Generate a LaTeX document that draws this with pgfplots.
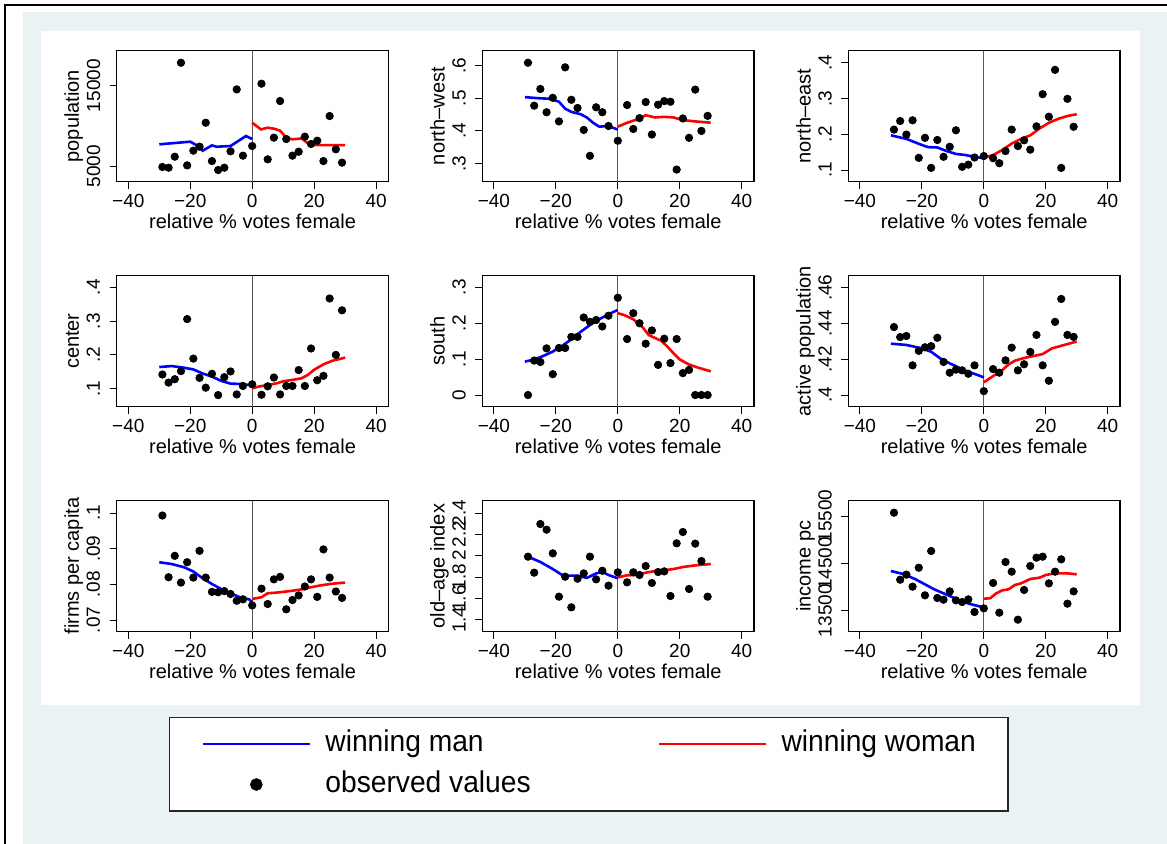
\documentclass[border=0pt]{standalone}
\usepackage{fontspec}
\setmainfont{Liberation Sans}
\newfontfamily\legfont[FakeStretch=0.94]{Liberation Sans}
\usepackage{pgfplots}
\pgfplotsset{compat=1.18}

\definecolor{bggray}{RGB}{234,242,243}

\pgfplotsset{
  panel/.style={
    scale only axis, width=135.85pt, height=65.5pt, anchor=south west,
    xmin=-43.75, xmax=43.97,
    xtick={-40,-20,0,20,40}, xticklabels={−40,−20,0,20,40},
    scaled y ticks=false,
    tick align=outside, tick pos=left, major tick length=3.5pt,
    tick style={black, line width=0.5pt},
    axis line style={line width=0.6pt},
    tick label style={font=\fontsize{9.5}{11}\selectfont, inner sep=0pt},
    label style={font=\fontsize{9.5}{11}\selectfont, inner sep=0pt},
    xticklabel style={anchor=base, yshift=-9.35pt},
    yticklabel style={xshift=-4.85pt, rotate=90, anchor=base},
    xlabel={relative \% votes female},
    every axis x label/.style={at={(axis description cs:0.5,-0.358)}, anchor=base},
    every axis y label/.style={at={(axis description cs:-0.139,0.5)}, rotate=90, anchor=base},
  },
  obs/.style={only marks, mark=*, mark size=1.85pt, black, forget plot},
  man/.style={blue, line width=1.3pt, no markers, forget plot},
  woman/.style={red, line width=1.3pt, no markers, forget plot},
}
\newcommand{\zeroline}{\draw[black!65, line width=0.5pt] ({axis cs:0,0}|-{rel axis cs:0,0}) -- ({axis cs:0,0}|-{rel axis cs:0,1});}

\begin{document}
\begin{tikzpicture}
\useasboundingbox (0,0) rectangle (583.5pt,422pt);
\fill[bggray] (11.5pt,0) rectangle (583.5pt,416pt);
\fill[white] (20.5pt,69.5pt) rectangle (570pt,406.5pt);
\draw[black, line width=1pt] (2.5pt,0) -- (2.5pt,419.5pt) -- (583.5pt,419.5pt);

% row 1
\begin{axis}[panel, at={(58.35pt,331.15pt)}, ymin=3050, ymax=19357,
  ytick={5000,15000}, yticklabels={5000,15000}, ylabel={population}]
\zeroline
\addplot[obs] coordinates {(-29,4880)(-27,4790)(-25,6160)(-23,17860)(-21,5080)(-19,6910)(-17,7410)(-15,10390)(-13,5620)(-11,4500)(-9,4790)(-7,6830)(-5,14540)(-3,6290)(0,7490)(3,15250)(5,5830)(7,8530)(9,13090)(11,8360)(13,6290)(15,6780)(17,8650)(19,7740)(21,8150)(23,5620)(25,11220)(27,7080)(29,5420)};
\addplot[man] coordinates {(-30,7700)(-20,8030)(-18,7600)(-16,6910)(-13,7570)(-11.5,7400)(-7,7490)(-4,8240)(-2,8730)(0,8360)};
\addplot[woman] coordinates {(0,10390)(2.8,9560)(5,9770)(7,9650)(9,9400)(11,8530)(13,8320)(16,8440)(18.6,7610)(30,7610)};
\end{axis}

\begin{axis}[panel, at={(241.15pt,331.15pt)}, ymin=0.2451, ymax=0.6448,
  ytick={0.3,0.4,0.5,0.6}, yticklabels={.3,.4,.5,.6}, ylabel={north–west}]
\zeroline
\addplot[obs] coordinates {(-29,.608)(-27,.477)(-25,.528)(-23,.457)(-21,.501)(-19,.429)(-17,.594)(-15,.495)(-13,.470)(-11,.403)(-9,.324)(-7,.472)(-5,.457)(-3,.415)(0,.370)(3,.479)(5,.406)(7,.439)(9,.488)(11,.389)(13,.480)(15,.491)(17,.489)(19,.282)(21,.438)(23,.379)(25,.526)(27,.400)(29,.446)};
\addplot[man] coordinates {(-30,.503)(-26,.500)(-22,.498)(-19,.489)(-17,.468)(-15,.458)(-12,.451)(-10,.441)(-8,.425)(-6,.413)(-3,.415)(0,.404)};
\addplot[woman] coordinates {(0,.413)(3,.425)(5,.431)(7,.437)(9,.448)(12,.441)(15,.443)(18,.441)(21,.433)(25,.429)(30,.425)};
\end{axis}

\begin{axis}[panel, at={(424.15pt,331.15pt)}, ymin=0.0674, ymax=0.4336,
  ytick={0.1,0.2,0.3,0.4}, yticklabels={.1,.2,.3,.4}, ylabel={north–east}]
\zeroline
\addplot[obs] coordinates {(-29,.213)(-27,.237)(-25,.199)(-23,.239)(-21,.134)(-19,.190)(-17,.106)(-15,.184)(-13,.137)(-11,.165)(-9,.211)(-7,.109)(-5,.115)(-3,.135)(0,.139)(3,.133)(5,.119)(7,.153)(9,.213)(11,.167)(13,.183)(15,.157)(17,.222)(19,.312)(21,.249)(23,.380)(25,.106)(27,.299)(29,.221)};
\addplot[man] coordinates {(-30,.197)(-25,.187)(-20,.170)(-18,.164)(-15,.163)(-12,.153)(-9,.145)(-6,.142)(-3,.137)(0,.133)};
\addplot[woman] coordinates {(0,.134)(3,.142)(6,.156)(9,.174)(12,.187)(15,.197)(18,.216)(21,.232)(24,.243)(27,.251)(30,.256)};
\end{axis}

% row 2
\begin{axis}[panel, at={(58.35pt,218.65pt)}, ymin=0.0467, ymax=0.4345,
  ytick={0.1,0.2,0.3,0.4}, yticklabels={.1,.2,.3,.4}, ylabel={center}]
\zeroline
\addplot[obs] coordinates {(-29,.142)(-27,.118)(-25,.128)(-23,.152)(-21,.306)(-19,.189)(-17,.132)(-15,.103)(-13,.144)(-11,.081)(-9,.134)(-7,.151)(-5,.083)(-3,.108)(0,.113)(3,.082)(5,.107)(7,.133)(9,.083)(11,.108)(13,.108)(15,.155)(17,.108)(19,.219)(21,.125)(23,.138)(25,.367)(27,.200)(29,.332)};
\addplot[man] coordinates {(-30,.164)(-26,.167)(-22,.162)(-19,.157)(-16,.145)(-13,.136)(-10,.123)(-7,.115)(-4,.114)(-1,.111)(0,.106)};
\addplot[woman] coordinates {(0,.101)(2,.106)(5,.111)(8,.116)(10,.122)(13,.126)(16,.131)(18,.141)(20,.156)(23,.172)(26,.183)(30,.192)};
\end{axis}

\begin{axis}[panel, at={(241.15pt,218.65pt)}, ymin=-0.0325, ymax=0.3325,
  ytick={0,0.1,0.2,0.3}, yticklabels={0,.1,.2,.3}, ylabel={south}]
\zeroline
\addplot[obs] coordinates {(-29,0)(-27,.096)(-25,.092)(-23,.130)(-21,.058)(-19,.131)(-17,.131)(-15,.162)(-13,.162)(-11,.216)(-9,.204)(-7,.209)(-5,.191)(-3,.221)(0,.271)(3,.156)(5,.228)(7,.200)(9,.143)(11,.180)(13,.084)(15,.157)(17,.089)(19,.156)(21,.061)(23,.070)(25,0)(27,0)(29,0)};
\addplot[man] coordinates {(-30,.093)(-27,.099)(-24,.109)(-21,.121)(-18,.137)(-15,.155)(-12,.176)(-9,.195)(-6,.211)(-3,.225)(0,.237)};
\addplot[woman] coordinates {(0,.228)(2,.223)(5,.211)(8,.189)(10,.167)(12,.159)(14,.151)(16,.135)(18,.116)(20,.099)(23,.085)(26,.076)(30,.066)};
\end{axis}

\begin{axis}[panel, at={(424.15pt,218.65pt)}, ymin=0.3935, ymax=0.4667,
  ytick={0.4,0.42,0.44,0.46}, yticklabels={.4,.42,.44,.46}, ylabel={active population}]
\zeroline
\addplot[obs] coordinates {(-29,.4380)(-27,.4324)(-25,.4330)(-23,.4166)(-21,.4247)(-19,.4267)(-17,.4273)(-15,.4320)(-13,.4185)(-11,.4125)(-9,.4142)(-7,.4138)(-5,.4119)(-3,.4166)(0,.4022)(3,.4145)(5,.4125)(7,.4194)(9,.4265)(11,.4138)(13,.4172)(15,.4241)(17,.4336)(19,.4166)(21,.4080)(23,.4409)(25,.4537)(27,.4336)(29,.4325)};
\addplot[man] coordinates {(-30,.4287)(-25,.4280)(-20,.4261)(-17,.4242)(-14,.4204)(-11,.4177)(-8,.4153)(-5,.4130)(-2,.4112)(0,.4099)};
\addplot[woman] coordinates {(0,.4071)(3,.4106)(6,.4140)(8,.4171)(10,.4192)(13,.4207)(16,.4218)(19,.4229)(22,.4261)(26,.4280)(30,.4299)};
\end{axis}

% row 3
\begin{axis}[panel, at={(58.35pt,106.15pt)}, ymin=0.06673, ymax=0.10346,
  ytick={0.07,0.08,0.09,0.1}, yticklabels={.07,.08,.09,.1}, ylabel={firms per capita}]
\zeroline
\addplot[obs] coordinates {(-29,.0993)(-27,.0820)(-25,.0880)(-23,.0805)(-21,.0862)(-19,.0819)(-17,.0894)(-15,.0819)(-13,.0779)(-11,.0778)(-9,.0781)(-7,.0773)(-5,.0754)(-3,.0758)(0,.0741)(3,.0788)(5,.0745)(7,.0814)(9,.0821)(11,.0730)(13,.0756)(15,.0769)(17,.0794)(19,.0814)(21,.0765)(23,.0898)(25,.0819)(27,.0780)(29,.0762)};
\addplot[man] coordinates {(-30,.0862)(-26,.0857)(-22,.0848)(-19,.0836)(-16,.0817)(-13,.0801)(-10,.0787)(-7,.0775)(-4,.0764)(-1,.0758)(0,.0750)};
\addplot[woman] coordinates {(0,.0759)(3,.0764)(5,.0775)(8,.0777)(12,.0781)(16,.0786)(19,.0792)(22,.0797)(26,.0802)(30,.0805)};
\end{axis}

\begin{axis}[panel, at={(241.15pt,106.15pt)}, ymin=1.2875, ymax=2.5156,
  ytick={1.4,1.6,1.8,2,2.2,2.4}, yticklabels={1.4,1.6,1.8,2,2.2,2.4}, ylabel={old–age index}]
\zeroline
\addplot[obs] coordinates {(-29,1.991)(-27,1.841)(-25,2.297)(-23,2.244)(-21,2.022)(-19,1.616)(-17,1.803)(-15,1.516)(-13,1.784)(-11,1.834)(-9,1.991)(-7,1.778)(-5,1.859)(-3,1.719)(0,1.844)(3,1.750)(5,1.844)(7,1.819)(9,1.903)(11,1.744)(13,1.847)(15,1.853)(17,1.622)(19,2.116)(21,2.222)(23,1.688)(25,2.113)(27,1.950)(29,1.616)};
\addplot[man] coordinates {(-29,1.991)(-25,1.941)(-21,1.875)(-18,1.819)(-16,1.813)(-13,1.813)(-10,1.791)(-7,1.834)(-5,1.847)(-3,1.819)(0,1.788)};
\addplot[woman] coordinates {(0,1.797)(3,1.816)(6,1.819)(9,1.841)(12,1.856)(15,1.863)(18,1.875)(21,1.894)(25,1.909)(30,1.922)};
\end{axis}

\begin{axis}[panel, at={(424.15pt,106.15pt)}, ymin=13056, ymax=15824,
  ytick={13500,14500,15500}, yticklabels={13500,14500,15500}, ylabel={income pc}]
\zeroline
\addplot[obs] coordinates {(-29,15570)(-27,14155)(-25,14261)(-23,14007)(-21,14408)(-19,13824)(-17,14761)(-15,13768)(-13,13732)(-11,13908)(-9,13718)(-7,13683)(-5,13739)(-3,13472)(0,13549)(3,14085)(5,13458)(7,14528)(9,14324)(11,13310)(13,13937)(15,14444)(17,14620)(19,14641)(21,14077)(23,14324)(25,14585)(27,13648)(29,13908)};
\addplot[man] coordinates {(-30,14338)(-26,14275)(-22,14162)(-19,14056)(-16,13951)(-13,13866)(-10,13782)(-7,13690)(-4,13634)(-1,13585)(0,13580)};
\addplot[woman] coordinates {(0,13754)(2,13761)(4,13866)(6,13930)(8,13951)(10,14042)(12,14077)(15,14169)(18,14197)(20,14254)(23,14289)(27,14289)(30,14268)};
\end{axis}

% legend
\begin{axis}[at={(0pt,0pt)}, anchor=south west, scale only axis, width=583.5pt, height=422pt,
  hide axis, xmin=0, xmax=1, ymin=0, ymax=1,
  legend columns=2, legend cell align=left,
  legend style={at={(axis description cs:0.5045,0.1508)}, anchor=north,
    draw=black!85, line width=0.8pt, fill=white,
    font=\legfont\fontsize{15}{18}\selectfont,
    inner xsep=16pt, inner ysep=6.4pt, row sep=6.85pt,
    nodes={inner sep=0pt, text height=10.5pt, text depth=3pt},
    /tikz/every odd column/.append style={column sep=7.15pt},
    /tikz/every even column/.append style={column sep=63.5pt}}]
\addlegendimage{legend image code/.code={\draw[blue, line width=1.25pt] (0pt,0pt) -- (53.5pt,0pt);}}
\addlegendentry{winning man}
\addlegendimage{legend image code/.code={\draw[red, line width=1.25pt] (0pt,0pt) -- (53.5pt,0pt);}}
\addlegendentry{winning woman\hspace{5.5pt}}
\addlegendimage{legend image code/.code={\fill[black] (26.75pt,0pt) circle (2.75pt);}}
\addlegendentry{observed values}
\end{axis}
\end{tikzpicture}
\end{document}
